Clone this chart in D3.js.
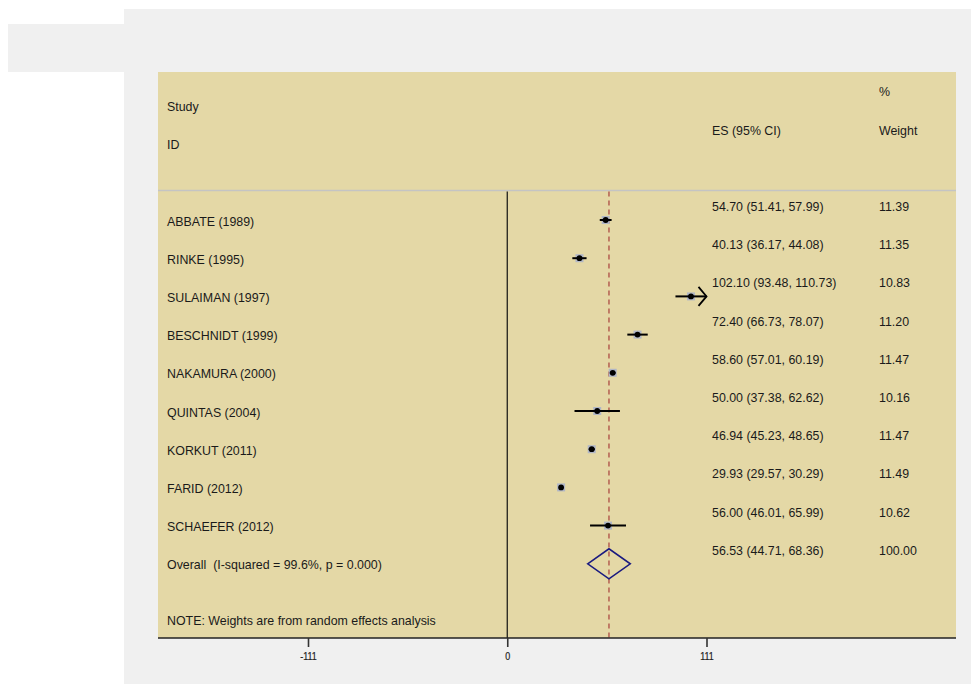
<!DOCTYPE html>
<html><head><meta charset="utf-8">
<script src="https://cdn.jsdelivr.net/npm/d3@7"></script>
<style>body{margin:0;background:#fff}svg{display:block}text{font-family:"Liberation Sans",Arial,sans-serif;fill:#1a1a1a;white-space:pre}</style>
</head><body>
<svg id="c" width="971" height="684"></svg>
<script>
const studies = ["ABBATE (1989)","RINKE (1995)","SULAIMAN (1997)","BESCHNIDT (1999)","NAKAMURA (2000)","QUINTAS (2004)","KORKUT (2011)","FARID (2012)","SCHAEFER (2012)"];
const es    = [54.70, 40.13, 102.10, 72.40, 58.60, 50.00, 46.94, 29.93, 56.00];
const lower = [51.41, 36.17, 93.48, 66.73, 57.01, 37.38, 45.23, 29.57, 46.01];
const upper = [57.99, 44.08, 110.73, 78.07, 60.19, 62.62, 48.65, 30.29, 65.99];
const weights = [11.39, 11.35, 10.83, 11.20, 11.47, 10.16, 11.47, 11.49, 10.62];
const overall = {label:"Overall  (I-squared = 99.6%, p = 0.000)", es:56.53, lower:44.71, upper:68.36, weight:100.00};
const axisLimit = 110.73;           // axis runs from -limit to +limit
const xTicks = [-110.73, 0, 110.73]; // labelled -111, 0, 111
const note = "NOTE: Weights are from random effects analysis";

const svg = d3.select("#c");
const f2 = d3.format(".2f");
const FS = 12.4;
// background
svg.append("rect").attr("x",124).attr("y",9).attr("width",847).attr("height",675).attr("fill","#f0f0f0");
svg.append("rect").attr("x",8).attr("y",24).attr("width",120).attr("height",48).attr("fill","#f0f0f0");
const P = {l:158, r:956, t:72, b:638};
svg.append("rect").attr("x",P.l).attr("y",P.t).attr("width",P.r-P.l).attr("height",P.b-P.t).attr("fill","#e4d8a6");

const x = d3.scaleLinear().domain([-axisLimit, axisLimit]).range([308,706.5]);
const rows = studies.length + 1;
const y = d3.scaleLinear().domain([0, rows-1]).range([220, 563.8]);
const sepY = 190.5;

// header
const hdr = svg.append("g").attr("font-size",FS);
hdr.append("text").attr("x",167).attr("y",107).attr("dominant-baseline","central").text("Study");
hdr.append("text").attr("x",167).attr("y",145).attr("dominant-baseline","central").text("ID");
hdr.append("text").attr("x",712).attr("y",131).attr("dominant-baseline","central").text("ES (95% CI)");
hdr.append("text").attr("x",879).attr("y",92).attr("dominant-baseline","central").text("%");
hdr.append("text").attr("x",879).attr("y",131).attr("dominant-baseline","central").text("Weight");

// separator
svg.append("line").attr("x1",P.l).attr("x2",P.r).attr("y1",sepY).attr("y2",sepY).attr("stroke","#c4c4c4").attr("stroke-width",1.5);

// zero line
svg.append("line").attr("x1",x(0)).attr("x2",x(0)).attr("y1",sepY+1).attr("y2",P.b).attr("stroke","#111").attr("stroke-width",1.2);
// overall dashed line
svg.append("line").attr("x1",x(overall.es)).attr("x2",x(overall.es)).attr("y1",sepY+1).attr("y2",P.b)
  .attr("stroke","#a8403c").attr("stroke-width",1.2).attr("stroke-dasharray","5,4");

// axis
const ax = svg.append("g").attr("transform",`translate(0,${P.b})`);
ax.append("line").attr("x1",P.l).attr("x2",P.r).attr("stroke","#222").attr("stroke-width",1.5);
const axis = d3.axisBottom(x).tickValues(xTicks).tickSize(9).tickPadding(5)
  .tickFormat(d => String(Math.round(d)));
ax.append("g").call(axis).call(s=>{
  s.select(".domain").remove();
  s.selectAll(".tick line").attr("stroke","#333").attr("stroke-width",1.6);
  s.selectAll(".tick text").attr("font-size",10.5).attr("fill","#222").attr("stroke","#222").attr("stroke-width",0.2)
    .attr("font-family","Liberation Sans Narrow, Liberation Sans, Arial").attr("dy","0.8em")
    .attr("transform","scale(0.85,1)").attr("x",function(d){return 0;});
});

// study rows
const g = svg.append("g");
studies.forEach((s,i)=>{
  const yy = y(i);
  g.append("text").attr("x",167).attr("y",yy+1.5).attr("font-size",FS).attr("dominant-baseline","central").text(s);
  g.append("text").attr("x",712).attr("y",yy-13).attr("font-size",FS).attr("dominant-baseline","central")
    .text(`${f2(es[i])} (${f2(lower[i])}, ${f2(upper[i])})`);
  g.append("text").attr("x",879).attr("y",yy-13).attr("font-size",FS).attr("dominant-baseline","central").text(f2(weights[i]));
  const clipped = upper[i] >= axisLimit;
  const xr = clipped ? x(axisLimit) : x(upper[i]);
  const bs = 8;
  g.append("rect").attr("x",x(es[i])-bs/2).attr("y",yy-bs/2).attr("width",bs).attr("height",bs).attr("fill","#b0b6c6");
  g.append("line").attr("x1",x(lower[i])).attr("x2",xr).attr("y1",yy).attr("y2",yy).attr("stroke","#000").attr("stroke-width",2);
  if (clipped) {
    g.append("path").attr("d",`M${xr-8},${yy-9.5}L${xr},${yy}L${xr-8},${yy+9.5}`).attr("fill","none").attr("stroke","#000").attr("stroke-width",1.8);
  }
  g.append("circle").attr("cx",x(es[i])).attr("cy",yy).attr("r",2.9).attr("fill","#000");
});

// overall
const oy = y(rows-1);
g.append("text").attr("x",167).attr("y",oy+1.5).attr("font-size",FS).attr("dominant-baseline","central").text(overall.label);
g.append("text").attr("x",712).attr("y",oy-13).attr("font-size",FS).attr("dominant-baseline","central")
  .text(`${f2(overall.es)} (${f2(overall.lower)}, ${f2(overall.upper)})`);
g.append("text").attr("x",879).attr("y",oy-13).attr("font-size",FS).attr("dominant-baseline","central").text(f2(overall.weight));
g.append("path").attr("d",`M${x(overall.lower)},${oy}L${x(overall.es)},${oy-15}L${x(overall.upper)},${oy}L${x(overall.es)},${oy+15}Z`)
  .attr("fill","none").attr("stroke","#1a1a80").attr("stroke-width",1.6);

// note
g.append("text").attr("x",167).attr("y",621).attr("font-size",FS).attr("dominant-baseline","central").text(note);
</script>
</body></html>
